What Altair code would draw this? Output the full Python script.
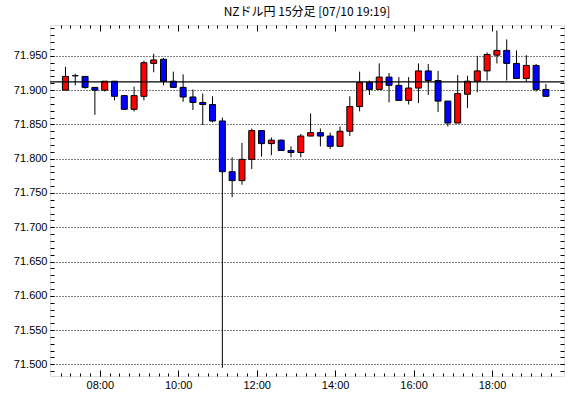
import altair as alt
import pandas as pd

# ---- data ----
times = ["07:00","07:15","07:30","07:45","08:00","08:15","08:30","08:45",
         "09:00","09:15","09:30","09:45","10:00","10:15","10:30","10:45",
         "11:00","11:15","11:30","11:45","12:00","12:15","12:30","12:45",
         "13:00","13:15","13:30","13:45","14:00","14:15","14:30","14:45",
         "15:00","15:15","15:30","15:45","16:00","16:15","16:30","16:45",
         "17:00","17:15","17:30","17:45","18:00","18:15","18:30","18:45",
         "19:00","19:15"]
opens  = [71.900,71.921,71.920,71.904,71.900,71.913,71.892,71.872,71.891,71.939,
          71.945,71.913,71.904,71.890,71.882,71.879,71.855,71.781,71.768,71.799,
          71.841,71.822,71.827,71.812,71.809,71.833,71.838,71.833,71.818,71.840,
          71.876,71.911,71.901,71.919,71.907,71.885,71.903,71.928,71.914,71.884,
          71.852,71.894,71.913,71.928,71.951,71.958,71.939,71.917,71.936,71.901]
highs  = [71.934,71.924,71.920,71.904,71.913,71.913,71.893,71.905,71.943,71.953,
          71.947,71.927,71.923,71.901,71.895,71.891,71.860,71.802,71.823,71.844,
          71.841,71.831,71.828,71.818,71.836,71.866,71.844,71.838,71.847,71.891,
          71.927,71.914,71.939,71.925,71.919,71.919,71.939,71.938,71.928,71.884,
          71.922,71.921,71.950,71.955,71.987,71.974,71.958,71.951,71.938,71.909]
lows   = [71.900,71.907,71.902,71.864,71.898,71.885,71.872,71.869,71.885,71.926,
          71.907,71.904,71.883,71.871,71.849,71.853,71.495,71.744,71.762,71.785,
          71.803,71.805,71.812,71.802,71.802,71.833,71.818,71.814,71.818,71.833,
          71.869,71.893,71.901,71.882,71.885,71.879,71.881,71.893,71.868,71.847,
          71.852,71.874,71.897,71.914,71.939,71.914,71.917,71.912,71.898,71.891]
closes = [71.920,71.921,71.904,71.900,71.913,71.891,71.872,71.892,71.940,71.944,
          71.913,71.904,71.890,71.882,71.879,71.855,71.781,71.768,71.799,71.841,
          71.822,71.827,71.812,71.809,71.833,71.838,71.833,71.818,71.840,71.876,
          71.911,71.901,71.919,71.907,71.885,71.903,71.928,71.914,71.884,71.852,
          71.895,71.913,71.928,71.952,71.958,71.939,71.917,71.936,71.901,71.891]
ref_level = 71.912

x_major = [480, 600, 720, 840, 960, 1080]          # 08:00 ... 18:00 in minutes
x_minor = list(range(420, 1181, 15))               # every 15 minutes
y_major = [71.50, 71.55, 71.60, 71.65, 71.70, 71.75, 71.80, 71.85, 71.90, 71.95]
y_minor = [round(71.49 + 0.01 * i, 2) for i in range(51)]

def to_min(s):
    h, m = s.split(":")
    return int(h) * 60 + int(m) + 7.5   # candle centred in its 15-min slot

df = pd.DataFrame({"time": times, "open": opens, "high": highs,
                   "low": lows, "close": closes})
df["t"] = df["time"].map(to_min)

xs = alt.Scale(domain=[411.5, 1182.5], nice=False, zero=False)
ys = alt.Scale(domain=[71.483, 71.995], nice=False, zero=False)

LF = "Liberation Sans"

def xaxis(**kw):
    base = dict(title=None, grid=False, domain=False, labelFont=LF)
    base.update(kw)
    return alt.Axis(**base)

def yaxis(**kw):
    base = dict(title=None, grid=False, domain=False, labelFont=LF)
    base.update(kw)
    return alt.Axis(**base)

label_expr = "(floor(datum.value/60) < 10 ? '0' : '') + floor(datum.value/60) + ':00'"

base = alt.Chart(df)

wicks = base.mark_rule(color="black", strokeWidth=1).encode(
    x=alt.X("t:Q", scale=xs, axis=xaxis(orient="bottom", values=x_major, ticks=False,
                                        labelExpr=label_expr, labelPadding=3,
                                        labelFontSize=11, labelColor="black")),
    y=alt.Y("low:Q", scale=ys, axis=yaxis(orient="left", values=y_major, ticks=False,
                                          format=".3f", labelPadding=3, labelFontSize=11,
                                          labelColor="black", grid=True, gridColor="black",
                                          gridDash=[1, 2], gridWidth=1, gridOpacity=1)),
    y2="high:Q",
)

bodies = base.mark_bar(size=6, stroke="black", strokeWidth=1).encode(
    x=alt.X("t:Q", scale=xs, axis=xaxis(orient="bottom", values=x_minor, labels=False,
                                        tickSize=3, offset=-3, tickColor="black")),
    y=alt.Y("open:Q", scale=ys, axis=yaxis(orient="left", values=y_minor, labels=False,
                                           tickSize=4, offset=-4, tickColor="black")),
    y2="close:Q",
    color=alt.condition("datum.close >= datum.open", alt.value("#ff0000"), alt.value("#0000ff")),
)

hline = alt.Chart(pd.DataFrame({"level": [ref_level]})).mark_rule(
    color="black", strokeWidth=1.2).encode(
    y=alt.Y("level:Q", scale=ys, axis=yaxis(orient="right", values=y_minor, labels=False,
                                            tickSize=4, offset=-4, tickColor="black")),
)

inv1 = base.mark_point(opacity=0).encode(
    x=alt.X("t:Q", scale=xs, axis=xaxis(orient="bottom", values=x_major, labels=False,
                                        tickSize=6, offset=-6, tickColor="black")),
    y=alt.Y("close:Q", scale=ys, axis=None),
)
inv2 = base.mark_point(opacity=0).encode(
    x=alt.X("t:Q", scale=xs, axis=xaxis(orient="top", values=x_minor, labels=False,
                                        tickSize=3, offset=-3, tickColor="black")),
    y=alt.Y("close:Q", scale=ys, axis=None),
)
inv3 = base.mark_point(opacity=0).encode(
    x=alt.X("t:Q", scale=xs, axis=xaxis(orient="top", values=x_major, labels=False,
                                        tickSize=6, offset=-6, tickColor="black")),
    y=alt.Y("close:Q", scale=ys, axis=None),
)

chart = alt.layer(wicks, bodies, hline, inv1, inv2, inv3).resolve_axis(
    x="independent", y="independent"
).properties(
    width=514, height=351,
    title=alt.TitleParams("NZドル円 15分足 [07/10 19:19]", fontSize=12,
                          font="Noto Sans CJK JP", fontWeight="normal",
                          color="black", offset=6, anchor="middle"),
    autosize=alt.AutoSizeParams(type="none"),
    padding={"left": 50, "top": 25, "right": 6, "bottom": 22},
).configure_view(
    stroke="black", strokeWidth=1
).configure(background="white")

chart.save("out.html", embed_options={"renderer": "svg", "actions": False})
